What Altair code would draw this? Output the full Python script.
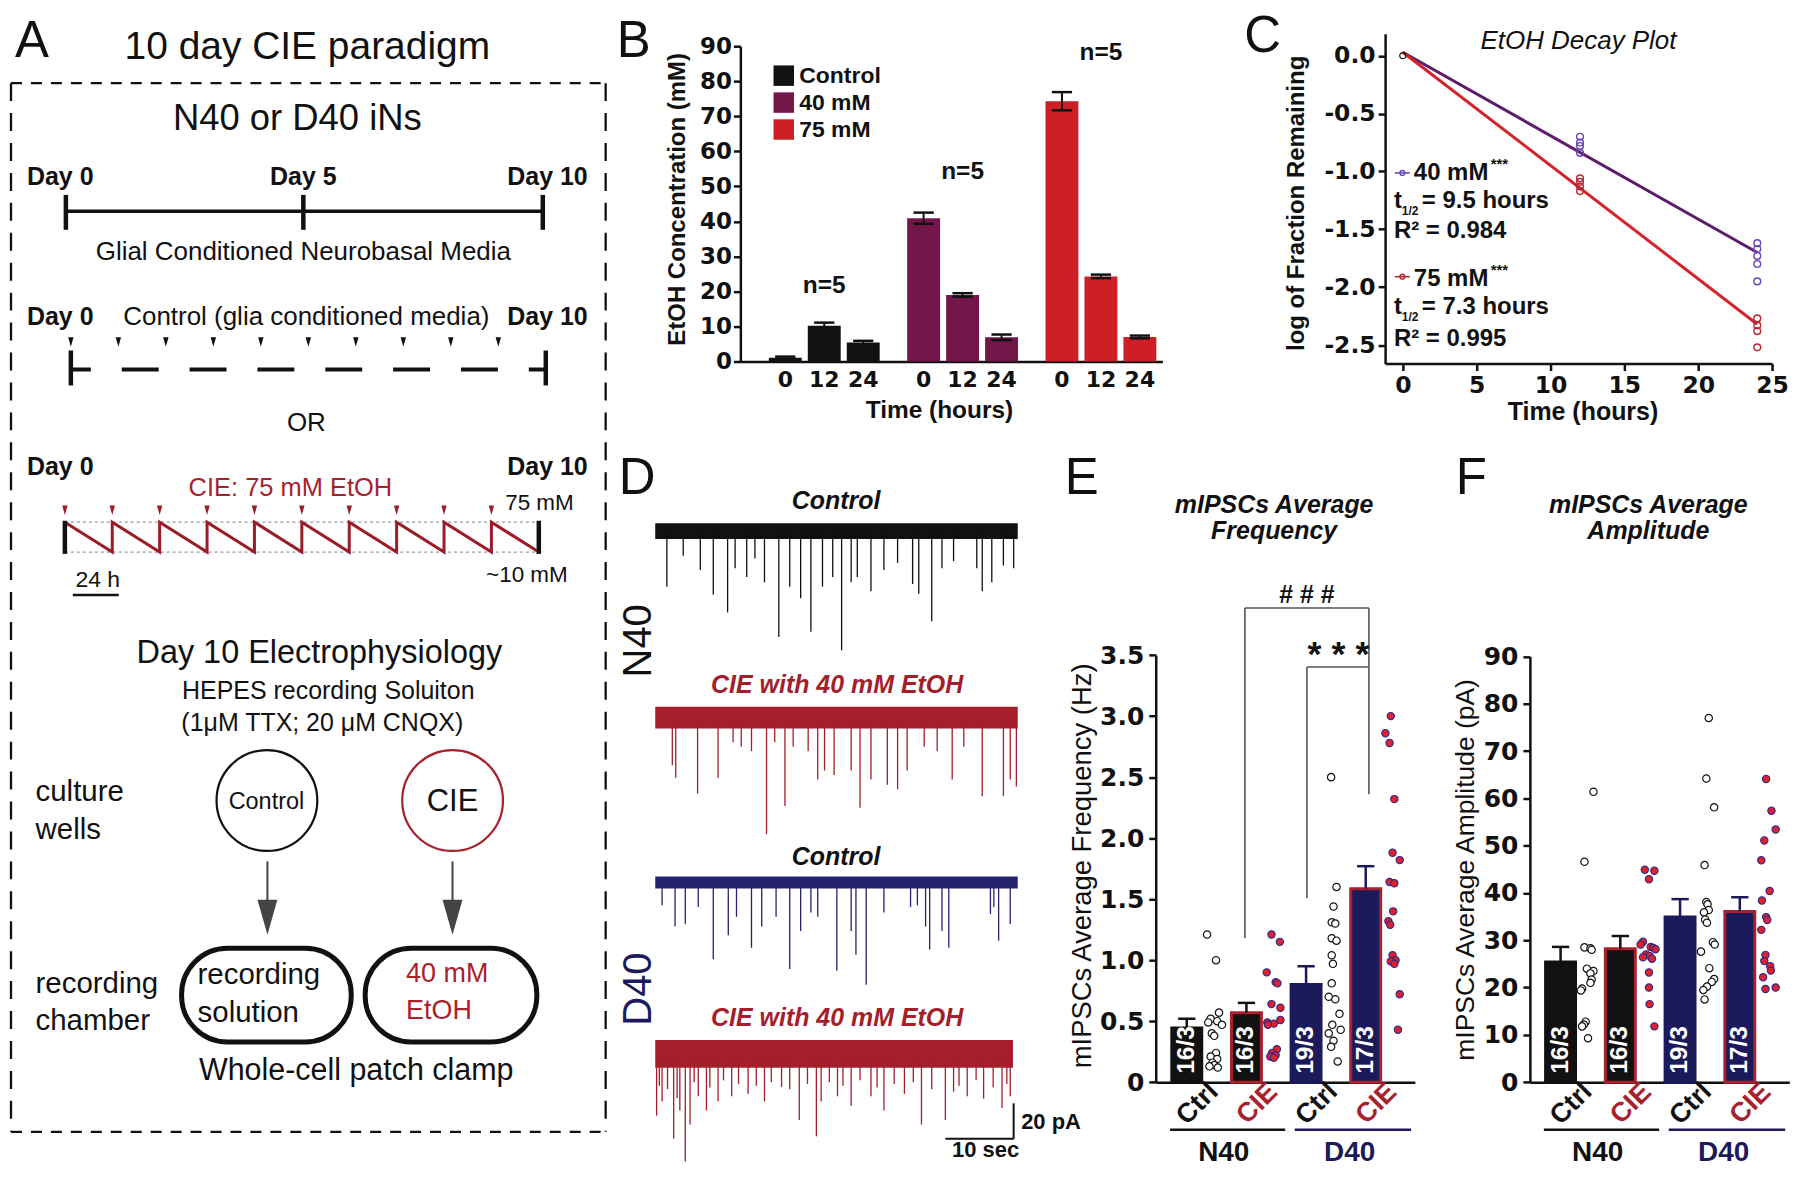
import altair as alt
import pandas as pd

W, H = 1788, 1156
OFF = 8
FONT = "Liberation Sans"
TICKFONT = "DejaVu Sans"
BLACK = "#111111"
RED = "#a8222e"
DRED = "#9b1c26"
TRACE_RED = "#a41e2c"
NAVY = "#1d1a5c"
TRACE_NAVY = "#25236e"
GRAY = "#444444"
TRI = "M-0.57,-1L0.57,-1L0,1Z"

# ---------------- Panel B data ----------------
b_groups = ["Control", "40 mM", "75 mM"]
b_times = ["0", "12", "24"]
b_ctrl = [1.1, 10.2, 5.4]
b_40 = [40.9, 19.0, 6.9]
b_75 = [74.3, 24.3, 7.0]
b_ctrl_sem = [0.3, 0.9, 0.5]
b_40_sem = [1.6, 0.5, 0.8]
b_75_sem = [2.6, 0.5, 0.4]
b_n_label = ["n=5", "n=5", "n=5"]
b_n_height = [21.6, 54.0, 88.0]
b_colors = ["#111111", "#74164a", "#cc1f26"]

# ---------------- Panel C data ----------------
c_t40 = [12, 12, 12, 12, 24, 24, 24, 24, 24]
c_v40 = [-0.70, -0.75, -0.78, -0.84, -1.62, -1.67, -1.73, -1.80, -1.95]
c_t75 = [12, 12, 12, 12, 24, 24, 24, 24]
c_v75 = [-1.06, -1.09, -1.13, -1.17, -2.27, -2.33, -2.38, -2.52]
c_t0 = [0]
c_v0 = [0.0]
c_fit_t = [0, 24]
c_fit40 = [0.03, -1.70]
c_fit75 = [0.03, -2.32]

# ---------------- Panel D data (event times in s, amplitudes in pA) ----------------
d_t1 = [1.7, 4.1, 6.6, 8.5, 10.6, 11.7, 13.4, 14.6, 16.0, 18.1, 19.7, 21.3, 22.8, 24.5, 26.0, 27.3,
        28.7, 29.6, 31.6, 33.5, 35.5, 37.7, 38.6, 40.5, 42.0, 43.7, 47.1, 47.9, 49.3, 51.0, 52.5]
d_a1 = [31.5, 14, 22, 36, 46, 21, 26, 15.5, 29, 60, 31.5, 38, 57, 31.5, 26, 67.5,
        29, 26, 34, 22, 18, 30, 35.5, 51, 21, 17, 21, 34, 29, 19.5, 21]
d_t2 = [2.5, 3.0, 6.2, 9.2, 11.4, 12.6, 14.1, 16.3, 17.5, 19.0, 20.2, 22.4, 23.8, 24.8, 26.2,
        28.7, 30.0, 31.6, 34.0, 35.5, 36.9, 39.4, 41.3, 43.5, 45.2, 47.9, 51.0, 52.0, 52.9]
d_a2 = [27, 34, 43, 34, 14, 16.5, 19, 66, 14, 50, 16.5, 19, 35, 30, 32.5,
        30, 51, 35, 38, 40.5, 30, 16.5, 19, 35, 16.5, 44.5, 44.5, 35, 39]
d_t3 = [1.0, 2.9, 4.4, 6.3, 8.5, 10.7, 11.9, 14.1, 15.6, 17.7, 19.7, 21.3, 22.8, 23.8, 26.6,
        28.7, 29.4, 30.9, 33.5, 37.4, 38.4, 39.6, 40.2, 42.0, 43.0, 49.1, 49.6, 50.3, 52.0]
d_a3 = [13, 25, 23.5, 14, 43.5, 30, 19.5, 37, 25, 19.5, 49, 27.5, 17, 19.5, 50,
        27.5, 41, 58, 17, 14, 13, 25, 38, 27.5, 37, 18, 14, 33, 23.5]
d_t4 = [0.2, 0.6, 1.0, 1.8, 2.7, 3.2, 3.6, 4.4, 5.1, 5.7, 6.3, 7.5, 8.0, 9.2, 10.0, 11.2, 12.2,
        13.6, 14.8, 16.0, 17.0, 18.5, 19.7, 21.1, 22.3, 23.6, 24.3, 25.5, 26.7, 27.5, 28.7, 30.0,
        31.6, 32.5, 33.5, 35.0, 36.5, 37.8, 39.0, 40.5, 42.5, 43.7, 44.5, 45.7, 47.0, 48.1, 49.5,
        50.8, 51.5, 52.0]
d_a4 = [35, 18, 27, 20, 48, 25, 32, 61, 40, 16, 24, 32, 19, 27, 15, 24, 17,
        22.7, 18, 27, 16, 18.7, 20, 37.4, 17, 46.7, 27, 16, 24, 18, 29.4, 15,
        24, 19, 32, 17, 22.7, 16, 40, 20, 37.4, 21.4, 18, 24, 15, 25.4, 19,
        30.7, 17, 24]
d_titles = ["Control", "CIE  with 40 mM EtOH", "Control", "CIE with 40 mM EtOH"]

# ---------------- Panel E data ----------------
ef_cats = ["Ctrl", "CIE", "Ctrl", "CIE"]
ef_counts = ["16/3", "16/3", "19/3", "17/3"]
e_means = [0.445, 0.57, 0.80, 1.585]
e_sems = [0.075, 0.08, 0.15, 0.185]
e_pts = [
    [1.21, 1.00, 0.57, 0.52, 0.50, 0.49, 0.47, 0.40, 0.38, 0.24, 0.21, 0.19, 0.16, 0.14, 0.13, 0.12],
    [1.21, 1.15, 0.90, 0.82, 0.81, 0.64, 0.61, 0.51, 0.49, 0.48, 0.47, 0.27, 0.24, 0.22, 0.21, 0.20],
    [2.50, 1.60, 1.44, 1.31, 1.30, 1.18, 1.16, 1.04, 0.97, 0.81, 0.70, 0.68, 0.56, 0.47, 0.43, 0.40, 0.34, 0.29, 0.17],
    [3.00, 2.86, 2.78, 2.32, 1.88, 1.82, 1.64, 1.63, 1.40, 1.32, 1.29, 1.04, 1.00, 0.99, 0.97, 0.72, 0.43],
]
e_jit = [
    [-0.12, 0.03, 0.08, -0.06, 0.05, -0.10, 0.13, -0.04, 0.0, 0.03, -0.06, 0.05, -0.03, 0.0, -0.08, 0.06],
    [-0.04, 0.10, -0.12, 0.03, 0.06, -0.04, 0.11, 0.11, -0.11, 0.0, -0.10, 0.05, -0.03, 0.03, -0.06, 0.0],
    [-0.04, 0.05, 0.0, -0.03, 0.03, -0.03, 0.05, -0.03, -0.01, -0.03, -0.08, 0.03, 0.10, -0.02, 0.12, -0.08, 0.0, -0.04, 0.07],
    [-0.04, -0.13, -0.06, 0.02, -0.01, 0.11, -0.06, 0.02, 0.0, -0.08, -0.05, -0.01, 0.04, -0.04, 0.02, 0.11, 0.08],
]

# ---------------- Panel F data ----------------
f_means = [25.4, 28.2, 34.9, 36.1]
f_sems = [3.2, 2.7, 3.8, 3.0]
f_pts = [
    [61.4, 46.6, 28.5, 28.3, 28.0, 24.0, 23.5, 23.0, 21.7, 21.0, 19.8, 19.4, 12.8, 12.2, 11.8, 9.3],
    [44.9, 44.7, 42.9, 29.7, 29.1, 28.6, 28.4, 28.1, 27.0, 26.7, 26.4, 26.1, 23.2, 20.0, 16.5, 11.8],
    [77.0, 64.2, 58.1, 45.9, 38.1, 37.6, 36.4, 35.9, 34.4, 33.7, 29.6, 29.1, 27.6, 24.1, 21.8, 21.2, 20.2, 19.5, 17.5],
    [64.1, 57.4, 53.4, 51.1, 46.9, 40.4, 38.4, 34.9, 34.3, 32.2, 26.9, 25.6, 24.5, 23.6, 22.2, 20.0, 19.7],
]
f_jit = [
    [0.09, -0.06, -0.06, 0.04, 0.06, -0.02, 0.09, 0.04, 0.06, 0.04, -0.10, -0.12, -0.04, -0.07, -0.10, 0.0],
    [-0.05, 0.11, 0.02, -0.08, -0.12, 0.05, 0.09, 0.13, -0.03, 0.03, -0.08, 0.07, 0.02, 0.02, 0.03, 0.11],
    [0.02, -0.02, 0.11, -0.05, -0.02, 0.0, 0.02, -0.06, -0.04, -0.01, 0.09, 0.12, -0.11, 0.03, 0.11, 0.07, -0.01, -0.07, -0.05],
    [-0.02, 0.07, 0.14, -0.05, -0.10, 0.04, -0.09, -0.02, 0.0, -0.10, -0.03, -0.05, 0.05, 0.06, -0.07, 0.14, -0.03],
]


# ---------------- helpers ----------------
def R(a, b):
    return [a - OFF, b - OFF]


def lin(d0, d1, p0, p1):
    return alt.Scale(domain=[d0, d1], range=R(p0, p1), nice=False, zero=False)


PXS = lin(OFF, OFF + W, OFF, OFF + W)
PYS = lin(OFF, OFF + H, OFF, OFF + H)


def texts(rows, size, color=BLACK, weight="normal", style="normal", align="left",
          baseline="alphabetic", angle=0):
    df = pd.DataFrame(rows, columns=["x", "y", "label"])
    return alt.Chart(df).mark_text(
        font=FONT, fontSize=size, color=color, fontWeight=weight, fontStyle=style,
        align=align, baseline=baseline, angle=angle
    ).encode(
        x=alt.X("x:Q", scale=PXS, axis=None),
        y=alt.Y("y:Q", scale=PYS, axis=None),
        text="label:N",
    )


def segs(rows, color=BLACK, width=2.0, dash=None, dash_offset=None):
    df = pd.DataFrame(rows, columns=["x", "y", "x2", "y2"])
    kw = dict(color=color, strokeWidth=width)
    if dash is not None:
        kw["strokeDash"] = dash
    if dash_offset is not None:
        kw["strokeDashOffset"] = dash_offset
    return alt.Chart(df).mark_rule(**kw).encode(
        x=alt.X("x:Q", scale=PXS, axis=None),
        y=alt.Y("y:Q", scale=PYS, axis=None),
        x2="x2:Q", y2="y2:Q",
    )


layers = []

# ================= Panel A (schematic) =================
layers.append(segs([(11, 82, 607, 82), (11, 1133, 607, 1133)], width=2.3, dash=[11, 9]))
layers.append(segs([(11, 82, 11, 1133), (607, 82, 607, 1133)], width=2.3, dash=[18, 12]))
# timeline 1
layers.append(segs([(66, 210.5, 544, 210.5)], width=3.5))
layers.append(segs([(66, 194, 66, 229), (304, 194, 304, 229), (544, 194, 544, 229)], width=4.5))
# timeline 2 (control, media changes)
layers.append(segs([(71, 369, 547, 369)], width=4, dash=[37, 31], dash_offset=17))
layers.append(segs([(71, 350, 71, 385), (547, 350, 547, 385)], width=4.5))
feed_days = list(range(10))
tl2x = lin(0, 10, 71, 547)
layers.append(
    alt.Chart(pd.DataFrame({"day": feed_days})).mark_point(
        shape=TRI, filled=True, color=BLACK, size=90, opacity=1, strokeWidth=0
    ).encode(x=alt.X("day:Q", scale=tl2x, axis=None), y=alt.value(341.5 - OFF))
)
# timeline 3 (CIE sawtooth)
saw_day = [0, 1, 1, 2, 2, 3, 3, 4, 4, 5, 5, 6, 6, 7, 7, 8, 8, 9, 9, 10]
saw_conc = [75, 10, 75, 10, 75, 10, 75, 10, 75, 10, 75, 10, 75, 10, 75, 10, 75, 10, 75, 10]
sx = lin(0, 10, 65, 540)
sy = lin(10, 75, 552, 522)
saw_df = pd.DataFrame({"day": saw_day, "conc": saw_conc, "i": list(range(len(saw_day)))})
guide_df = pd.DataFrame({"d0": [0, 0], "d1": [10, 10], "conc": [75, 10]})
ends_df = pd.DataFrame({"day": [0, 10], "c0": [6, 6], "c1": [78, 78]})
layers.append(alt.layer(
    alt.Chart(guide_df).mark_rule(color="#9a9a9a", strokeDash=[3, 3], strokeWidth=1.2).encode(
        x=alt.X("d0:Q", scale=sx, axis=None), x2="d1:Q", y=alt.Y("conc:Q", scale=sy, axis=None)),
    alt.Chart(saw_df).mark_line(color=DRED, strokeWidth=3).encode(
        x=alt.X("day:Q", scale=sx, axis=None), y=alt.Y("conc:Q", scale=sy, axis=None), order="i:Q"),
    alt.Chart(ends_df).mark_rule(color=BLACK, strokeWidth=4.5).encode(
        x=alt.X("day:Q", scale=sx, axis=None), y=alt.Y("c0:Q", scale=sy, axis=None), y2="c1:Q"),
    alt.Chart(pd.DataFrame({"day": feed_days})).mark_point(
        shape=TRI, filled=True, color=DRED, size=90, opacity=1, strokeWidth=0).encode(
        x=alt.X("day:Q", scale=sx, axis=None), y=alt.value(510 - OFF)),
))
layers.append(segs([(73, 595, 119, 595)], width=2.5))
# electrophysiology schematic
layers.append(
    alt.Chart(pd.DataFrame({"x": [267.5], "y": [801]})).mark_point(
        shape="circle", filled=False, color=BLACK, size=10201, strokeWidth=2.2, opacity=1
    ).encode(x=alt.X("x:Q", scale=PXS, axis=None), y=alt.Y("y:Q", scale=PYS, axis=None))
)
layers.append(
    alt.Chart(pd.DataFrame({"x": [453.6], "y": [801]})).mark_point(
        shape="circle", filled=False, color=RED, size=10201, strokeWidth=2.2, opacity=1
    ).encode(x=alt.X("x:Q", scale=PXS, axis=None), y=alt.Y("y:Q", scale=PYS, axis=None))
)
layers.append(segs([(268, 862, 268, 903), (453.5, 862, 453.5, 903)], color=GRAY, width=2))
layers.append(
    alt.Chart(pd.DataFrame({"x": [268, 453.5], "y": [918, 918]})).mark_point(
        shape=TRI, filled=True, color=GRAY, size=1225, opacity=1, strokeWidth=0
    ).encode(x=alt.X("x:Q", scale=PXS, axis=None), y=alt.Y("y:Q", scale=PYS, axis=None))
)
layers.append(
    alt.Chart(pd.DataFrame({"x": [182, 366], "x2": [352, 538], "y": [949, 949], "y2": [1043, 1043]})).mark_rect(
        fill="white", stroke=BLACK, strokeWidth=5, cornerRadius=46
    ).encode(x=alt.X("x:Q", scale=PXS, axis=None), x2="x2:Q",
             y=alt.Y("y:Q", scale=PYS, axis=None), y2="y2:Q")
)
# schematic texts
layers.append(texts([(308, 58, "10 day CIE paradigm")], 39, align="center"))
layers.append(texts([(298, 129, "N40 or D40 iNs")], 36.5, align="center"))
layers.append(texts([(27, 184, "Day 0"), (27, 324.5, "Day 0"), (27, 474.5, "Day 0")], 25, weight="bold"))
layers.append(texts([(304, 184, "Day 5")], 25, weight="bold", align="center"))
layers.append(texts([(589, 184, "Day 10"), (589, 324.5, "Day 10"), (589, 474.5, "Day 10")], 25,
                    weight="bold", align="right"))
layers.append(texts([(304, 259, "Glial Conditioned Neurobasal Media"),
                     (307, 324.5, "Control (glia conditioned media)"),
                     (307, 430.5, "OR")], 26, align="center"))
layers.append(texts([(329, 699.5, "HEPES recording Soluiton"),
                     (323, 731, "(1\u03bcM TTX; 20 \u03bcM CNQX)")], 25, align="center"))
layers.append(texts([(291, 495.6, "CIE: 75 mM EtOH")], 25.5, color=RED, align="center"))
layers.append(texts([(575, 510, "75 mM"), (569, 582, "~10 mM")], 22.5, align="right"))
layers.append(texts([(98, 587, "24 h")], 23, align="center"))
layers.append(texts([(320, 663, "Day 10 Electrophysiology")], 32.5, align="center"))
layers.append(texts([(35.6, 801, "culture"), (35.6, 840, "wells"), (35.6, 994, "recording"),
                     (35.6, 1031, "chamber"), (198, 985, "recording"), (198, 1023, "solution")], 29.5))
layers.append(texts([(407, 983, "40 mM"), (407, 1020, "EtOH")], 27, color=RED))
layers.append(texts([(267, 809, "Control")], 23.5, align="center"))
layers.append(texts([(453.5, 811, "CIE")], 31, align="center"))
layers.append(texts([(357, 1081, "Whole-cell patch clamp")], 30.5, align="center"))

# panel letters
layers.append(texts([(15, 56, "A"), (618, 56, "B"), (1247, 51, "C"),
                     (620, 494, "D"), (1067, 494, "E"), (1459, 494, "F")], 51))

# ================= Panel B =================
b_rows = []
for gi, (g, vals, sems) in enumerate(zip(b_groups, [b_ctrl, b_40, b_75], [b_ctrl_sem, b_40_sem, b_75_sem])):
    for ti, (t, v, s) in enumerate(zip(b_times, vals, sems)):
        slot = gi * 3.55 + ti
        b_rows.append(dict(group=g, time=t, slot=slot, mean=v, lo=v - s, hi=v + s,
                           cl=slot - 0.26, cr=slot + 0.26, zero=0))
bdf = pd.DataFrame(b_rows)
ndf = pd.DataFrame({"slot": [gi * 3.55 + 1 for gi in range(3)], "h": b_n_height, "label": b_n_label})
bx = lin(-1.025, 9.55, 742, 1165)
by = lin(0, 90, 361, 45)
bxa = alt.Axis(orient="bottom", offset=(361 - OFF) - H, labels=False, ticks=False,
               title="Time (hours)", titleFontSize=24.5, titleFontWeight="bold",
               titleX=941 - OFF, titleY=56, titleBaseline="alphabetic", titleAlign="center",
               domainWidth=2.5, domainColor=BLACK)
bya = alt.Axis(orient="left", offset=-(742 - OFF), values=list(range(0, 91, 10)), tickSize=7,
               tickWidth=2.5, labelFont=TICKFONT, labelFontSize=23, labelFontWeight="bold", labelPadding=2,
               title="EtOH Concentration (mM)", titleFontSize=24, titleFontWeight="bold",
               titleX=679 - 742, titleY=198 - OFF, titleAngle=270, titleBaseline="middle",
               titleAlign="center", domainWidth=2.5, domainColor=BLACK)
BX = lambda f: alt.X(f, scale=bx, axis=bxa)
BY = lambda f: alt.Y(f, scale=by, axis=bya)
panel_b = alt.layer(
    alt.Chart(bdf).mark_bar(size=33).encode(
        x=BX("slot:Q"), y=BY("mean:Q"), y2="zero:Q",
        color=alt.Color("group:N", scale=alt.Scale(domain=b_groups, range=b_colors),
                        legend=alt.Legend(orient="none", legendX=774 - OFF, legendY=63 - OFF, title=None,
                                          symbolType="square", symbolSize=420, symbolStrokeWidth=0,
                                          symbolOpacity=1, labelFont=FONT, labelFontSize=23,
                                          labelFontWeight="bold", labelColor=BLACK, labelOffset=4,
                                          rowPadding=3, padding=0))),
    alt.Chart(bdf).mark_rule(color=BLACK, strokeWidth=2).encode(x=BX("slot:Q"), y=BY("lo:Q"), y2="hi:Q"),
    alt.Chart(bdf).mark_rule(color=BLACK, strokeWidth=2.5).encode(x=BX("cl:Q"), x2="cr:Q", y=BY("hi:Q")),
    alt.Chart(bdf).mark_rule(color=BLACK, strokeWidth=2.5).encode(x=BX("cl:Q"), x2="cr:Q", y=BY("lo:Q")),
    alt.Chart(ndf).mark_text(font=FONT, fontSize=24.5, fontWeight="bold", baseline="middle", color=BLACK).encode(
        x=BX("slot:Q"), y=BY("h:Q"), text="label:N"),
    alt.Chart(bdf).mark_text(font=TICKFONT, fontSize=22, fontWeight="bold", baseline="alphabetic", color=BLACK).encode(
        x=BX("slot:Q"), y=alt.value(387 - OFF), text="time:N"),
)
layers.append(panel_b)

# ================= Panel C =================
C_Y0, C_PU = 54.5, 116.0
cx = lin(-1.2, 25, 1388.2, 1776)
cy = lin(-2.66, 0.19, C_Y0 + 2.66 * C_PU, C_Y0 - 0.19 * C_PU)
c_bottom = C_Y0 + 2.66 * C_PU
cxa = alt.Axis(orient="bottom", offset=(c_bottom - OFF) - H, values=[0, 5, 10, 15, 20, 25], tickSize=7,
               tickWidth=2.5, labelFont=TICKFONT, labelFontSize=23.5, labelFontWeight="bold",
               labelPadding=3, labelFlush=False,
               title="Time (hours)", titleFontSize=25, titleFontWeight="bold",
               titleX=1586 - OFF, titleY=419 - c_bottom, titleBaseline="alphabetic", titleAlign="center",
               domainWidth=2.5, domainColor=BLACK)
cya = alt.Axis(orient="left", offset=-(1388.2 - OFF), values=[0, -0.5, -1, -1.5, -2, -2.5],
               labelExpr="replace(format(datum.value, '.1f'), '\u2212', '-')", tickSize=7, tickWidth=2.5,
               labelFont=TICKFONT, labelFontSize=23.5, labelFontWeight="bold", labelPadding=3, labelFlush=False,
               title="log of Fraction Remaining", titleFontSize=24, titleFontWeight="bold",
               titleX=1299 - 1388.2, titleY=202 - OFF, titleAngle=270, titleBaseline="middle",
               titleAlign="center", domainWidth=2.5, domainColor=BLACK)
CX = lambda f: alt.X(f, scale=cx, axis=cxa)
CY = lambda f: alt.Y(f, scale=cy, axis=cya)
fit_df = pd.DataFrame({"t": c_fit_t + c_fit_t, "v": c_fit40 + c_fit75,
                       "s": ["40", "40", "75", "75"],
                       "col": ["#5e1d6a", "#5e1d6a", "#d3242b", "#d3242b"]})
panel_c = alt.layer(
    alt.Chart(fit_df).mark_line(strokeWidth=3).encode(
        x=CX("t:Q"), y=CY("v:Q"), color=alt.Color("col:N", scale=None), detail="s:N"),
    alt.Chart(pd.DataFrame({"t": c_t40, "v": c_v40})).mark_point(
        shape="circle", filled=False, color="#6a48b5", size=46, strokeWidth=1.4, opacity=1).encode(
        x=CX("t:Q"), y=CY("v:Q")),
    alt.Chart(pd.DataFrame({"t": c_t75, "v": c_v75})).mark_point(
        shape="circle", filled=False, color="#b52a36", size=46, strokeWidth=1.4, opacity=1).encode(
        x=CX("t:Q"), y=CY("v:Q")),
    alt.Chart(pd.DataFrame({"t": c_t0, "v": c_v0})).mark_point(
        shape="circle", filled=False, color=BLACK, size=38, strokeWidth=1.2, opacity=1).encode(
        x=CX("t:Q"), y=CY("v:Q")),
)
layers.append(panel_c)
layers.append(texts([(1582, 48, "EtOH Decay Plot")], 26, style="italic", align="center"))
layers.append(segs([(1398, 172, 1413, 172)], color="#6a48b5", width=1.6))
layers.append(segs([(1398, 276, 1413, 276)], color="#b52a36", width=1.6))
layers.append(
    alt.Chart(pd.DataFrame({"x": [1405.5], "y": [172]})).mark_point(
        shape="circle", filled=False, color="#6a48b5", size=24, strokeWidth=1.3, opacity=1
    ).encode(x=alt.X("x:Q", scale=PXS, axis=None), y=alt.Y("y:Q", scale=PYS, axis=None)))
layers.append(
    alt.Chart(pd.DataFrame({"x": [1405.5], "y": [276]})).mark_point(
        shape="circle", filled=False, color="#b52a36", size=24, strokeWidth=1.3, opacity=1
    ).encode(x=alt.X("x:Q", scale=PXS, axis=None), y=alt.Y("y:Q", scale=PYS, axis=None)))
layers.append(texts([(1417, 179, "40 mM"), (1397, 207, "t"), (1425, 207, "= 9.5 hours"),
                     (1397, 237, "R\u00b2 = 0.984"),
                     (1417, 285, "75 mM"), (1397, 313, "t"), (1425, 313, "= 7.3 hours"),
                     (1397, 345, "R\u00b2 = 0.995")], 24, weight="bold"))
layers.append(texts([(1405, 214, "1/2"), (1405, 320, "1/2")], 12, weight="bold"))
layers.append(texts([(1494, 168, "***"), (1494, 274, "***")], 15, weight="bold"))

# ================= Panel D (traces) =================
D_Y0, D_PU = 531.0, 1.77
dx = lin(0, 53.1, 656.7, 1020)
dy = lin(-420, 40, D_Y0 + 420 * D_PU, D_Y0 - 40 * D_PU)
d_offsets = [0.0, -105.6, -198.9, -296.0]
d_half = [4.5, 6.2, 3.4, 7.9]
d_end = [53.1, 53.1, 53.1, 52.4]
d_cols = [BLACK, TRACE_RED, TRACE_NAVY, TRACE_RED]
band_df = pd.DataFrame({"x0": [0.0] * 4, "x1": d_end,
                        "y0": [o - h for o, h in zip(d_offsets, d_half)],
                        "y1": [o + h for o, h in zip(d_offsets, d_half)], "col": d_cols})
sp_rows = []
for ts, amps, off, col in zip([d_t1, d_t2, d_t3, d_t4], [d_a1, d_a2, d_a3, d_a4], d_offsets, d_cols):
    for t, a in zip(ts, amps):
        sp_rows.append(dict(t=t, top=off, bot=off - a, col=col))
sp_df = pd.DataFrame(sp_rows)
DX = lambda f: alt.X(f, scale=dx, axis=None)
DY = lambda f: alt.Y(f, scale=dy, axis=None)
dlab_df = pd.DataFrame({"t": [26.5, 26.65, 26.5, 26.65], "v": [12.7, -91.5, -189.0, -280.0],
                        "label": d_titles, "col": [BLACK, TRACE_RED, BLACK, TRACE_RED]})
side_df = pd.DataFrame({"t": [-0.69, -0.69], "v": [-62.1, -259.3], "label": ["N40", "D40"],
                        "col": [BLACK, NAVY]})
sb_df = pd.DataFrame({"t0": [52.5, 42.5], "t1": [52.5, 52.5], "v0": [-344, -344], "v1": [-324, -344]})
panel_d = alt.layer(
    alt.Chart(band_df).mark_rect().encode(x=DX("x0:Q"), x2="x1:Q", y=DY("y0:Q"), y2="y1:Q",
                                          color=alt.Color("col:N", scale=None)),
    alt.Chart(sp_df).mark_rule(strokeWidth=1.3).encode(x=DX("t:Q"), y=DY("top:Q"), y2="bot:Q",
                                                         color=alt.Color("col:N", scale=None)),
    alt.Chart(dlab_df).mark_text(font=FONT, fontSize=25, fontWeight="bold", fontStyle="italic",
                                 align="center", baseline="alphabetic").encode(
        x=DX("t:Q"), y=DY("v:Q"), text="label:N", color=alt.Color("col:N", scale=None)),
    alt.Chart(side_df).mark_text(font=FONT, fontSize=40, angle=270, align="center",
                                 baseline="alphabetic").encode(
        x=DX("t:Q"), y=DY("v:Q"), text="label:N", color=alt.Color("col:N", scale=None)),
    alt.Chart(sb_df).mark_rule(color=BLACK, strokeWidth=2).encode(x=DX("t0:Q"), x2="t1:Q",
                                                                   y=DY("v0:Q"), y2="v1:Q"),
    alt.Chart(pd.DataFrame({"t": [53.6], "v": [-334.5], "label": ["20 pA"]})).mark_text(
        font=FONT, fontSize=22, fontWeight="bold", align="left", baseline="middle", color=BLACK).encode(
        x=DX("t:Q"), y=DY("v:Q"), text="label:N"),
    alt.Chart(pd.DataFrame({"t": [48.4], "v": [-350.5], "label": ["10 sec"]})).mark_text(
        font=FONT, fontSize=22, fontWeight="bold", align="center", baseline="middle", color=BLACK).encode(
        x=DX("t:Q"), y=DY("v:Q"), text="label:N"),
)
layers.append(panel_d)


# ================= Panels E and F =================
def ef_panel(xd, xr, yd, yr, means, sems, pts, jits, yaxis_kw):
    xs = lin(xd[0], xd[1], xr[0], xr[1])
    ys = lin(yd[0], yd[1], yr[0], yr[1])
    xa = alt.Axis(orient="bottom", offset=(yr[0] - OFF) - H, labels=False, ticks=False, title=None,
                  domainWidth=2.5, domainColor=BLACK)
    ya = alt.Axis(orient="left", offset=-(xr[0] - OFF), tickSize=7, tickWidth=2.5, labelFont=TICKFONT,
                  labelFontSize=25, labelFontWeight="bold", labelPadding=5, titleFontWeight="normal",
                  titleAngle=270, titleBaseline="middle", titleAlign="center", domainWidth=2.5,
                  domainColor=BLACK, labelFlush=False, **yaxis_kw)
    X = lambda f: alt.X(f, scale=xs, axis=xa)
    Y = lambda f: alt.Y(f, scale=ys, axis=ya)
    slots = [0, 1, 2, 3]
    bar_df = pd.DataFrame({
        "slot": slots, "mean": means, "hi": [m + s for m, s in zip(means, sems)], "zero": [0] * 4,
        "fillc": [BLACK, BLACK, NAVY, NAVY], "strokec": [BLACK, RED, NAVY, RED],
        "errc": [BLACK, BLACK, NAVY, NAVY], "count": ef_counts, "cat": ef_cats,
        "catc": [BLACK, RED, BLACK, RED], "catx": [s + 0.18 for s in slots],
        "cl": [s - 0.145 for s in slots], "cr": [s + 0.145 for s in slots]})
    open_rows, red_rows = [], []
    for i in slots:
        for v, j in zip(pts[i], jits[i]):
            (open_rows if i % 2 == 0 else red_rows).append(dict(x=i + 0.46 + j, v=v))
    under_df = pd.DataFrame({"xa": [-0.28, 1.81], "xb": [1.65, 3.76], "col": [BLACK, NAVY]})
    grp_df = pd.DataFrame({"x": [0.62, 2.73], "label": ["N40", "D40"], "col": [BLACK, NAVY]})
    return alt.layer(
        alt.Chart(bar_df).mark_bar(size=30, strokeWidth=3).encode(
            x=X("slot:Q"), y=Y("mean:Q"), y2="zero:Q",
            fill=alt.Fill("fillc:N", scale=None), stroke=alt.Stroke("strokec:N", scale=None)),
        alt.Chart(bar_df).mark_rule(strokeWidth=2.5).encode(
            x=X("slot:Q"), y=Y("mean:Q"), y2="hi:Q", color=alt.Color("errc:N", scale=None)),
        alt.Chart(bar_df).mark_rule(strokeWidth=2.5).encode(
            x=X("cl:Q"), x2="cr:Q", y=Y("hi:Q"), color=alt.Color("errc:N", scale=None)),
        alt.Chart(pd.DataFrame(open_rows)).mark_point(
            shape="circle", filled=True, fill="white", stroke=BLACK, strokeWidth=1.2, size=54,
            opacity=1).encode(x=X("x:Q"), y=Y("v:Q")),
        alt.Chart(pd.DataFrame(red_rows)).mark_point(
            shape="circle", filled=True, fill="#e0202b", stroke="#2b2b8c", strokeWidth=1.1, size=54,
            opacity=1).encode(x=X("x:Q"), y=Y("v:Q")),
        alt.Chart(bar_df).mark_text(font=FONT, fontSize=24.5, fontWeight="bold", color="white",
                                    angle=270, align="center", baseline="middle").encode(
            x=X("slot:Q"), y=alt.value(1051 - OFF), text="count:N"),
        alt.Chart(bar_df).mark_text(font=FONT, fontSize=27, fontWeight="bold", angle=315,
                                    align="center", baseline="middle").encode(
            x=X("catx:Q"), y=alt.value(1105 - OFF), text="cat:N", color=alt.Color("catc:N", scale=None)),
        alt.Chart(under_df).mark_rule(strokeWidth=2.5).encode(
            x=X("xa:Q"), x2="xb:Q", y=alt.value(1131 - OFF), color=alt.Color("col:N", scale=None)),
        alt.Chart(grp_df).mark_text(font=FONT, fontSize=28, fontWeight="bold", align="center",
                                    baseline="alphabetic").encode(
            x=X("x:Q"), y=alt.value(1162 - OFF), text="label:N", color=alt.Color("col:N", scale=None)),
    )


E_Y0, E_PU = 1083.3, 122.3
layers.append(ef_panel(
    (-0.437, 3.74), (1158.3, 1418), (0, 3.5), (E_Y0, E_Y0 - 3.5 * E_PU), e_means, e_sems, e_pts, e_jit,
    dict(values=[0, 0.5, 1, 1.5, 2, 2.5, 3, 3.5],
         labelExpr="datum.value == 0 ? '0' : format(datum.value, '.1f')",
         title="mIPSCs Average Frequency (Hz)", titleFontSize=27.5,
         titleX=1085 - 1158.3, titleY=866 - OFF)))
F_Y0, F_TOP = 1083.3, 656.6
layers.append(ef_panel(
    (-0.43, 3.745), (1533.3, 1793.3), (0, 90), (F_Y0, F_TOP), f_means, f_sems, f_pts, f_jit,
    dict(values=list(range(0, 91, 10)), title="mIPSCs Average  Amplitude (pA)", titleFontSize=26.5,
         titleX=1469 - 1533.3, titleY=870 - OFF)))

# significance brackets on panel E
ebx = lin(-0.437, 3.74, 1158.3, 1418)
eby = lin(0, 4.5, E_Y0, E_Y0 - 4.5 * E_PU)
br_df = pd.DataFrame([(1, 1.18, 1, 3.886), (1, 3.886, 3, 3.886), (3, 3.886, 3, 2.36),
                      (2, 1.508, 2, 3.403), (2, 3.403, 3, 3.403)], columns=["x", "y", "x2", "y2"])
layers.append(alt.layer(
    alt.Chart(br_df).mark_rule(color="#555555", strokeWidth=1.6).encode(
        x=alt.X("x:Q", scale=ebx, axis=None), x2="x2:Q", y=alt.Y("y:Q", scale=eby, axis=None), y2="y2:Q"),
    alt.Chart(pd.DataFrame({"x": [2.0], "y": [3.99], "label": ["# # #"]})).mark_text(
        font=FONT, fontSize=25, fontWeight="bold", align="center", baseline="middle", color=BLACK).encode(
        x=alt.X("x:Q", scale=ebx, axis=None), y=alt.Y("y:Q", scale=eby, axis=None), text="label:N"),
    alt.Chart(pd.DataFrame({"x": [2.51], "y": [3.50], "label": ["* * *"]})).mark_text(
        font=FONT, fontSize=36, fontWeight="bold", align="center", baseline="middle", color=BLACK).encode(
        x=alt.X("x:Q", scale=ebx, axis=None), y=alt.Y("y:Q", scale=eby, axis=None), text="label:N"),
))
layers.append(texts([(1277, 513, "mIPSCs Average"), (1277, 539, "Frequency"),
                     (1652, 513, "mIPSCs Average"), (1652, 539, "Amplitude")], 25,
                    weight="bold", style="italic", align="center"))

chart = alt.layer(*layers).resolve_scale(
    x="independent", y="independent", color="independent", fill="independent", stroke="independent"
).properties(width=W, height=H, padding=0).configure(
    font=FONT, background="white"
).configure_view(stroke=None).configure_axis(
    grid=False, domainColor=BLACK, tickColor=BLACK, labelColor=BLACK, titleColor=BLACK,
    labelFont=FONT, titleFont=FONT
)

chart.save("out.html", embed_options={"renderer": "svg", "actions": False})
